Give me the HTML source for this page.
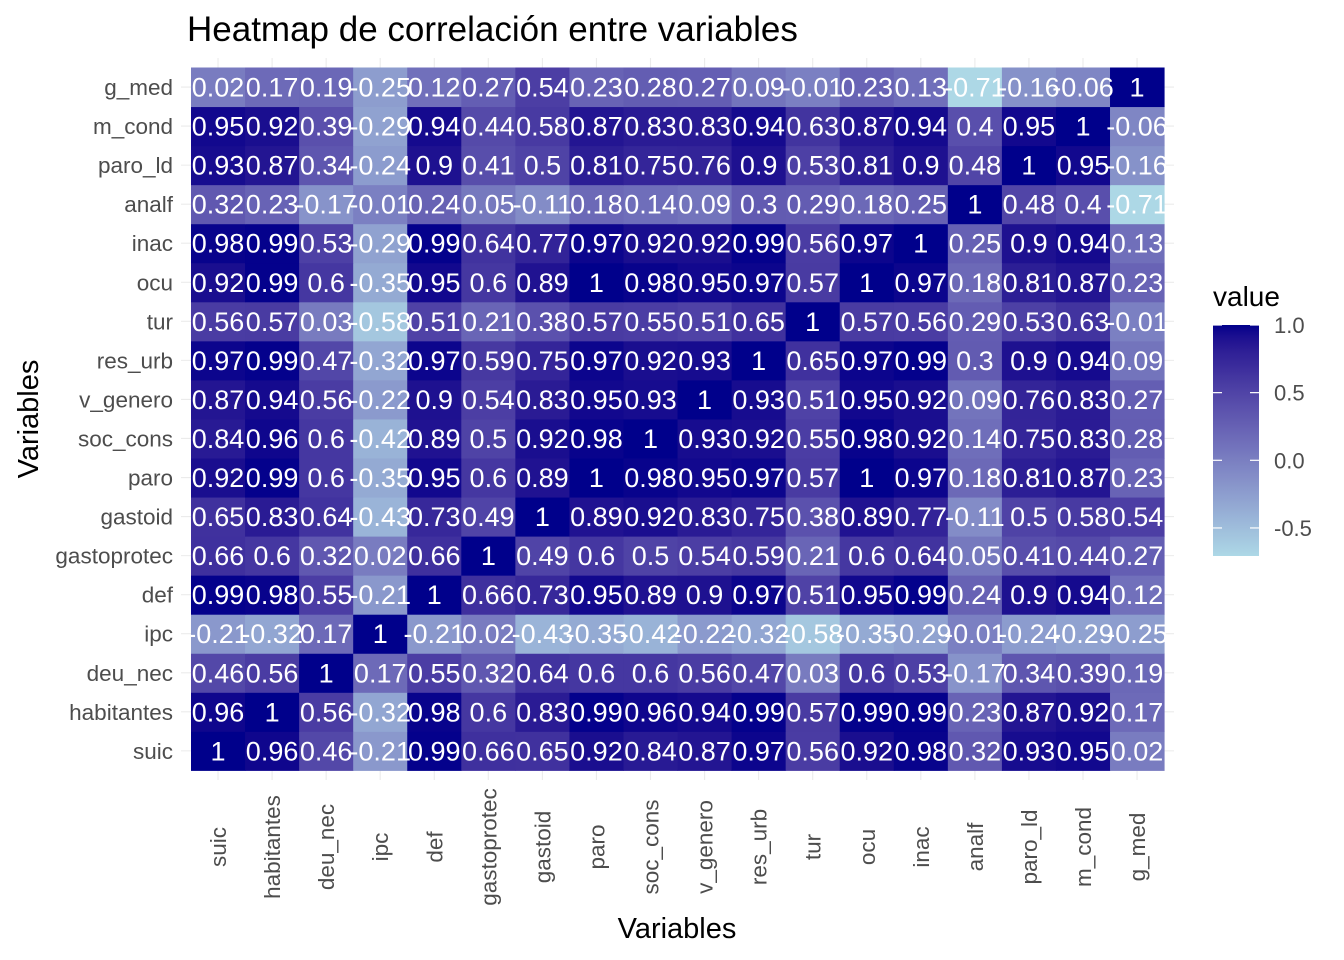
<!DOCTYPE html>
<html><head><meta charset="utf-8">
<style>
html,body{margin:0;padding:0;background:#fff;}
svg{display:block;font-family:"Liberation Sans",sans-serif;}
</style></head>
<body>
<svg id="s" width="1344" height="960" xmlns="http://www.w3.org/2000/svg"></svg>
<script>
const names=["suic","habitantes","deu_nec","ipc","def","gastoprotec","gastoid","paro","soc_cons","v_genero","res_urb","tur","ocu","inac","analf","paro_ld","m_cond","g_med"];
const M=[
[1,.96,.46,-.21,.99,.66,.65,.92,.84,.87,.97,.56,.92,.98,.32,.93,.95,.02],
[.96,1,.56,-.32,.98,.6,.83,.99,.96,.94,.99,.57,.99,.99,.23,.87,.92,.17],
[.46,.56,1,.17,.55,.32,.64,.6,.6,.56,.47,.03,.6,.53,-.17,.34,.39,.19],
[-.21,-.32,.17,1,-.21,.02,-.43,-.35,-.42,-.22,-.32,-.58,-.35,-.29,-.01,-.24,-.29,-.25],
[.99,.98,.55,-.21,1,.66,.73,.95,.89,.9,.97,.51,.95,.99,.24,.9,.94,.12],
[.66,.6,.32,.02,.66,1,.49,.6,.5,.54,.59,.21,.6,.64,.05,.41,.44,.27],
[.65,.83,.64,-.43,.73,.49,1,.89,.92,.83,.75,.38,.89,.77,-.11,.5,.58,.54],
[.92,.99,.6,-.35,.95,.6,.89,1,.98,.95,.97,.57,1,.97,.18,.81,.87,.23],
[.84,.96,.6,-.42,.89,.5,.92,.98,1,.93,.92,.55,.98,.92,.14,.75,.83,.28],
[.87,.94,.56,-.22,.9,.54,.83,.95,.93,1,.93,.51,.95,.92,.09,.76,.83,.27],
[.97,.99,.47,-.32,.97,.59,.75,.97,.92,.93,1,.65,.97,.99,.3,.9,.94,.09],
[.56,.57,.03,-.58,.51,.21,.38,.57,.55,.51,.65,1,.57,.56,.29,.53,.63,-.01],
[.92,.99,.6,-.35,.95,.6,.89,1,.98,.95,.97,.57,1,.97,.18,.81,.87,.23],
[.98,.99,.53,-.29,.99,.64,.77,.97,.92,.92,.99,.56,.97,1,.25,.9,.94,.13],
[.32,.23,-.17,-.01,.24,.05,-.11,.18,.14,.09,.3,.29,.18,.25,1,.48,.4,-.71],
[.93,.87,.34,-.24,.9,.41,.5,.81,.75,.76,.9,.53,.81,.9,.48,1,.95,-.16],
[.95,.92,.39,-.29,.94,.44,.58,.87,.83,.83,.94,.63,.87,.94,.4,.95,1,-.06],
[.02,.17,.19,-.25,.12,.27,.54,.23,.28,.27,.09,-.01,.23,.13,-.71,-.16,-.06,1]];
function s2l(c){c/=255;return c<=0.04045?c/12.92:Math.pow((c+0.055)/1.055,2.4);}
function l2s(c){c=c<=0.0031308?12.92*c:1.055*Math.pow(c,1/2.4)-0.055;return Math.round(Math.max(0,Math.min(1,c))*255);}
function toLab(r,g,b){r=s2l(r);g=s2l(g);b=s2l(b);
let X=(0.4124*r+0.3576*g+0.1805*b)/0.95047,Y=0.2126*r+0.7152*g+0.0722*b,Z=(0.0193*r+0.1192*g+0.9505*b)/1.08883;
const f=t=>t>0.008856?Math.cbrt(t):7.787*t+16/116;
return [116*f(Y)-16,500*(f(X)-f(Y)),200*(f(Y)-f(Z))];}
function fromLab(L,a,b){let fy=(L+16)/116,fx=fy+a/500,fz=fy-b/200;
const fi=t=>t*t*t>0.008856?t*t*t:(t-16/116)/7.787;
let X=fi(fx)*0.95047,Y=fi(fy),Z=fi(fz)*1.08883;
let r=3.2406*X-1.5372*Y-0.4986*Z,g=-0.9689*X+1.8758*Y+0.0415*Z,bb=0.0557*X-0.2040*Y+1.0570*Z;
return `rgb(${l2s(r)},${l2s(g)},${l2s(bb)})`;}
const LO=toLab(173,216,230),HI=toLab(0,0,139),vmin=-0.71,vmax=1;
function col(v){let t=(v-vmin)/(vmax-vmin);t=Math.max(0,Math.min(1,t));return fromLab(LO[0]+(HI[0]-LO[0])*t,LO[1]+(HI[1]-LO[1])*t,LO[2]+(HI[2]-LO[2])*t);}
let h='';
const x0=191,y0=67.5,cw=54.06,ch=39.05,n=18;
for(let i=0;i<n;i++){let cx=x0+cw*(i+0.5),cy=y0+ch*(n-1-i+0.5);
h+=`<line x1="${cx}" y1="58" x2="${cx}" y2="780" stroke="#ebebeb" stroke-width="1.1"/>`;
h+=`<line x1="181" y1="${cy}" x2="1174" y2="${cy}" stroke="#ebebeb" stroke-width="1.1"/>`;}
for(let r=0;r<n;r++)for(let c=0;c<n;c++){
let x=x0+cw*c,y=y0+ch*(n-1-r);
h+=`<rect x="${x}" y="${y}" width="${cw+0.5}" height="${ch+0.5}" fill="${col(M[r][c])}"/>`;}
for(let r=0;r<n;r++)for(let c=0;c<n;c++){
let x=x0+cw*(c+0.5),y=y0+ch*(n-1-r+0.5);
h+=`<text x="${x}" y="${y+9.5}" text-anchor="middle" font-size="27" fill="#fff">${String(M[r][c])}</text>`;}
for(let i=0;i<n;i++){let cy=y0+ch*(n-1-i+0.5),cx=x0+cw*(i+0.5);
h+=`<text x="173" y="${cy+8}" text-anchor="end" font-size="22.5" fill="#4d4d4d">${names[i]}</text>`;
h+=`<text transform="translate(${cx+8},847) rotate(-90)" text-anchor="middle" font-size="22.5" fill="#4d4d4d">${names[i]}</text>`;}
h+=`<text x="187" y="41" font-size="35" fill="#000">Heatmap de correlación entre variables</text>`;
h+=`<text x="677" y="938" text-anchor="middle" font-size="29" fill="#000">Variables</text>`;
h+=`<text transform="translate(38,419) rotate(-90)" text-anchor="middle" font-size="29" fill="#000">Variables</text>`;
let st='';for(let i=0;i<=40;i++){let t=i/40;st+=`<stop offset="${t}" stop-color="${col(vmax-(vmax-vmin)*t)}"/>`;}
h+=`<defs><linearGradient id="g" x1="0" y1="0" x2="0" y2="1">${st}</linearGradient></defs>`;
h+=`<text x="1213" y="306" font-size="28" fill="#000">value</text>`;
h+=`<rect x="1213" y="325" width="46" height="231" fill="url(#g)"/>`;
const k=135.3;
[1,0.5,0,-0.5].forEach(v=>{let y=325+(1-v)*k;
h+=`<line x1="1213" y1="${y}" x2="1222" y2="${y}" stroke="#fff" stroke-width="1.2"/><line x1="1250" y1="${y}" x2="1259" y2="${y}" stroke="#fff" stroke-width="1.2"/>`;
h+=`<text x="1274" y="${y+8}" font-size="22" fill="#4d4d4d">${v.toFixed(1)}</text>`;});
document.getElementById('s').innerHTML=h;
</script>
</body></html>
